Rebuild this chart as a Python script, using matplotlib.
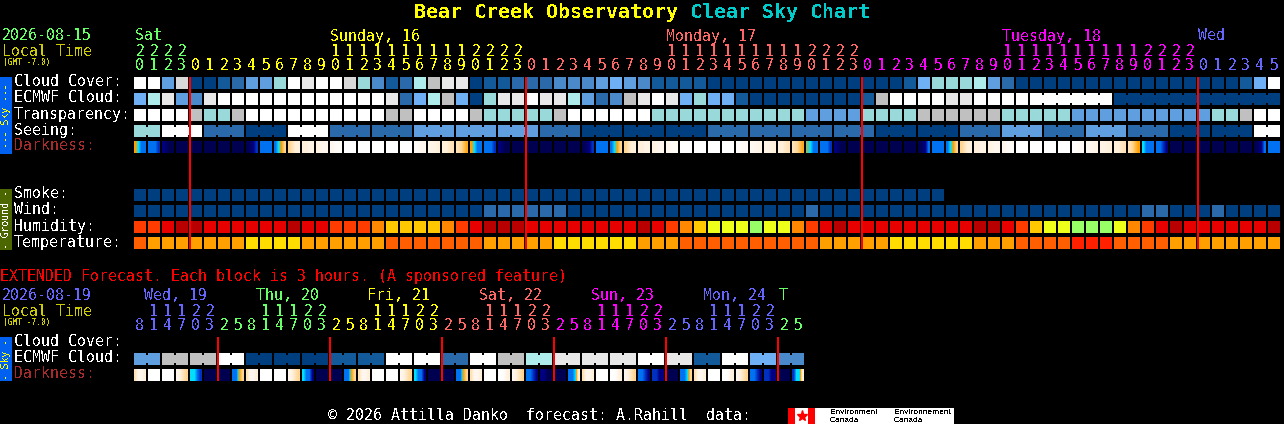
import matplotlib
matplotlib.use("Agg")
import matplotlib.pyplot as plt
from matplotlib.colors import LinearSegmentedColormap

# block codes: 0 darkest blue ... 8 grey ... 11 white
cloud_cover = [11, 11, 4, 9, 0, 0, 1, 2, 4, 4, 6, 11, 10, 11, 11, 9, 6, 3, 1, 2, 7,
               8, 10, 10, 0, 1, 1, 2, 2, 2, 3, 3, 3, 4, 5, 4, 3, 1, 1, 1, 1,
               0, 0, 0, 0, 0, 0, 0, 0, 0, 0, 0, 0, 0, 0, 1, 5, 6, 6, 6, 7, 4, 2,
               0, 0, 0, 0, 0, 0, 0, 0, 0, 0, 0, 0, 0, 0, 0, 0, 1, 5, 11]
ecmwf_cloud = [5, 7, 10, 4, 3, 10, 11, 11, 11, 11, 11, 11, 11, 11, 11, 11, 11, 11, 10, 2, 5,
               7, 8, 5, 0, 6, 10, 10, 11, 10, 10, 7, 4, 2, 3, 8, 10, 11, 10, 5, 6,
               5, 5, 1, 0, 0, 0, 0, 0, 0, 0, 0, 1, 8, 11, 11, 11, 11, 10, 10,
               11, 11, 11, 11, 11, 11, 11, 11, 11, 11,
               0, 0, 0, 0, 0, 0, 0, 0, 0, 0, 0, 0]
transparency = [11, 11, 11, 11, 8, 6, 6, 8, 11, 11, 11, 11, 11, 11, 11, 11, 11, 11, 8, 8,
                11, 11, 11, 11, 8, 6, 6, 6, 6, 6, 8, 11, 11, 11, 11, 11, 11,
                6, 6, 6, 6, 6, 6, 6, 6, 6, 6, 6, 4, 4, 4, 4,
                6, 6, 6, 6, 8, 8, 8, 8, 8, 8, 6, 6, 6, 6, 6,
                4, 4, 4, 4, 4, 4, 4, 4, 4, 4, 6, 6, 8, 11, 11]
seeing = [6, 6, 11, 11, 11, 2, 2, 2, 0, 0, 0, 11, 11, 11, 2, 2, 2, 2, 2, 2,
          4, 4, 4, 4, 4, 4, 4, 4, 4, 2, 2, 2, 0, 0, 0, 0, 0, 0, 0, 0, 0,
          2, 2, 2, 2, 2, 2, 2, 2, 2, 2, 2, 2, 0, 0, 0, 0, 0, 0,
          2, 2, 2, 4, 4, 4, 2, 2, 2, 4, 4, 4, 2, 2, 2, 0, 0, 0, 0, 0, 0, 11, 11]
seeing_groups = [2, 3, 3, 3, 3, 3, 3, 3, 3, 3, 3, 3, 3, 3, 3, 3, 3, 3, 3, 3, 3, 3, 3, 3, 3, 3, 3, 2]
ecmwf_groups = [64, 6, 12]  # first joined column, then the two run lengths

smoke = [0, 0, 0, 0, 0, 0, 0, 0, 0, 0, 0, 0, 0, 0, 0, 0, 0, 0, 0, 0, 0, 0, 0, 0, 0, 0, 0, 0, 0,
         0, 0, 0, 0, 0, 0, 0, 0, 0, 0, 0, 0, 0, 0, 0, 0, 0, 0, 0, 0, 0, 0, 0, 0, 0, 0, 0, 0, 0]
wind = [0, 0, 0, 0, 0, 0, 0, 0, 0, 0, 0, 0, 0, 0, 0, 0, 0, 0, 0, 0, 0, 0, 0, 0, 0,
        2, 2, 2, 2, 2, 2, 0, 0, 0, 0, 0, 0, 0, 0, 0, 0, 0, 0, 0, 0, 0, 0, 0, 2, 0, 0,
        0, 0, 0, 0, 0, 0, 0, 0, 0, 0, 0, 0, 0, 0, 0, 0, 0, 0, 0, 0, 0,
        2, 2, 0, 0, 0, 2, 0, 0, 0, 0]
humidity = ["o", "o", "r", "d", "d", "r", "r", "r", "r", "r", "r", "d", "r", "r", "o", "o", "o", "a", "y", "y", "y",
            "y", "a", "o", "r", "d", "d", "d", "r", "r", "r", "r", "r", "r", "r", "r", "d", "r", "o", "a", "y",
            "l", "l", "l", "g", "l", "l", "a", "o", "r", "d", "r",
            "r", "r", "r", "r", "r", "r", "r", "r", "d", "d", "r", "o", "y", "l", "l", "g", "g", "g", "l", "a", "o", "r", "d",
            "r", "r", "r", "r", "r", "r", "d"]
temperature = ["o", "a", "a", "a", "a", "a", "a", "a", "y", "y", "y", "y", "a", "a", "a", "a", "a", "a", "o", "o", "o",
               "o", "o", "o", "o", "a", "a", "a", "a", "a", "y", "y", "y", "y", "y", "y", "a", "a", "a",
               "o", "o", "o", "o", "o", "o", "o", "o", "o", "o", "a", "a", "a",
               "a", "a", "y", "y", "y", "y", "y", "y", "a", "a", "a", "o", "o", "o", "o", "R", "R", "R",
               "o", "o", "o", "o", "a", "a", "a", "a", "a", "a", "a", "a"]

# darkness: four samples across each block, 0 night ... 8 daylight
N = [0, 0, 0, 0]
W = [8, 8, 8, 8]
darkness = [[5, 4, 3, 3], [3, 3, 3, 2], [1, .5, 0, 0], N, N, N, N, N, [0, .5, 1, 2], [3, 3, 3, 3], [3, 4, 5, 6],
            [6, 6.5, 7, 7], [7, 7, 7.3, 7.3], [7.2, 7.4, 7.5, 7.5], [7.5, 7.7, 7.8, 7.8], W, W, W, W, W,
            [7.8, 7.7, 7.5, 7.5], [7.4, 7.3, 7.2, 7], [7, 7, 6.7, 6.5], [6.5, 6.2, 5.7, 5.2],
            [5, 4, 3, 3], [3, 3, 3, 2], [1, .5, 0, 0], N, N, N, N, N, [0, .5, 1, 2], [3, 3, 3, 3], [3, 4, 5, 6],
            [6, 6.5, 7, 7], [7, 7, 7.3, 7.3], [7.2, 7.4, 7.5, 7.5], [7.5, 7.7, 7.8, 7.8], W, W, W, W,
            [7.9, 7.8, 7.7, 7.7], [7.6, 7.5, 7.4, 7.3], [7.3, 7.2, 7.1, 7], [7, 7, 6.7, 6.5], [6.5, 6.2, 5.7, 5.2],
            [4.5, 4, 3, 3], [3, 3, 3, 2], [1, .5, 0, 0], N, N, N, N, N, [0, .5, 1, 3], [3, 3, 3, 3], [3, 4, 5, 6],
            [6, 6.5, 7, 7], [7, 7, 7.3, 7.3], [7.2, 7.4, 7.5, 7.5], [7.5, 7.7, 7.8, 7.8], W, W, W, W,
            [7.9, 7.8, 7.7, 7.7], [7.6, 7.5, 7.4, 7.3], [7.3, 7.2, 7.1, 7], [7, 7, 6.7, 6.5], [6.5, 6, 5.5, 5],
            [4, 3, 3, 3], [3, 3, 2, 1], N, N, N, N, N, N, [0, .5, 1, 3], [3, 3, 3, 3]]

ext_ecmwf = [4, 4, 8, 8, 8, 8, 11, 11, 0, 0, 0, 0, 0, 0, 1, 1, 1, 1, 11, 11, 11, 11, 2, 2,
             11, 11, 8, 8, 7, 7, 10, 10, 10, 10, 10, 10, 11, 11, 10, 10, 1, 1, 11, 11, 5, 5, 3, 3]
ext_darkness = [[6.5, 7.5, 7.5, 7], W, W, [7.5, 7, 6.5, 6], [4, 4, 3, 2], N, N, [3, 3, 5, 6],
                [6.5, 7.5, 7.5, 7], W, W, [7.5, 7, 6.5, 6], [4, 3, 3, 1], N, N, [3, 3, 5, 6],
                [6.5, 7.5, 7.5, 7], W, W, [7.5, 7, 6.5, 6], [4, 3, 3, 1], N, N, [3, 3, 5, 6],
                [6.5, 7.5, 7.5, 7], W, [8, 8, 7.5, 7], [7.5, 7, 6.5, 6], [3, 3, 2, 1], [1, 1, 0, 0], N, [3, 3, 4, 7],
                [6.5, 7.5, 7.5, 7], W, [8, 8, 7.5, 7], [7.5, 7, 6.5, 6], [3, 3, 2, 1], [2, 2, 1, 1], N, [3, 3, 4, 6],
                [6.5, 7.5, 7.5, 7], W, [8, 8, 7.5, 7], [7.5, 7, 6.5, 6], [3, 3, 2, 1], [2, 2, 1, 1], N, [2, 4, 4, 7]]

# hour labels, one per block
hours = [20, 21, 22, 23,
         0, 1, 2, 3, 4, 5, 6, 7, 8, 9, 10, 11, 12, 13, 14, 15, 16, 17, 18, 19, 20, 21, 22, 23,
         0, 1, 2, 3, 4, 5, 6, 7, 8, 9, 10, 11, 12, 13, 14, 15, 16, 17, 18, 19, 20, 21, 22, 23,
         0, 1, 2, 3, 4, 5, 6, 7, 8, 9, 10, 11, 12, 13, 14, 15, 16, 17, 18, 19, 20, 21, 22, 23,
         0, 1, 2, 3, 4, 5]
ext_hours = [8, 11, 14, 17, 20, 23, 2, 5, 8, 11, 14, 17, 20, 23, 2, 5, 8, 11, 14, 17, 20, 23, 2, 5,
             8, 11, 14, 17, 20, 23, 2, 5, 8, 11, 14, 17, 20, 23, 2, 5, 8, 11, 14, 17, 20, 23, 2, 5]

GREEN = "#66ff66"
YELLOW = "#ffff00"
SALMON = "#ff6666"
MAGENTA = "#ff00ff"
BLUE = "#6666ff"
OLIVE_TXT = "#cccc00"
RED = "#ff0000"

main_days = [("Sat", 135, GREEN), ("Sunday, 16", 330, YELLOW), ("Monday, 17", 666, SALMON),
             ("Tuesday, 18", 1002, MAGENTA), ("Wed", 1198, BLUE)]
ext_days = [("Wed, 19", 144, BLUE), ("Thu, 20", 256, GREEN), ("Fri, 21", 367, YELLOW),
            ("Sat, 22", 479, SALMON), ("Sun, 23", 591, MAGENTA), ("Mon, 24", 703, BLUE), ("T", 779, GREEN)]

cloud_colors = ["#003f7f", "#135a9a", "#2b6aaa", "#4a8aca", "#5f9fe0", "#6fb0f5",
                "#99d9d9", "#aeecec", "#c0c0c0", "#d8d8d8", "#e8e8e8", "#ffffff"]
ground_colors = {"d": "#b80000", "r": "#e60000", "o": "#ff3c00", "a": "#ff8800", "y": "#ffc800",
                 "l": "#eeff1a", "g": "#99ff66"}
temp_colors = {"a": "#ffa000", "y": "#ffdd00", "o": "#ff5f00", "R": "#ff2000"}
dark_cmap = LinearSegmentedColormap.from_list("dark", [
    (0, "#000050"), (1 / 8, "#000080"), (2 / 8, "#0030c0"), (3 / 8, "#0070f0"), (4 / 8, "#00e0ff"),
    (5 / 8, "#ffa000"), (6 / 8, "#ffd590"), (7 / 8, "#fff0dc"), (1, "#ffffff")])

plt.rcParams["font.family"] = ["DejaVu Sans Mono"]
plt.rcParams["text.antialiased"] = False

X0 = 134
PITCH = 14
SIZE = 12

fig = plt.figure(figsize=(12.84, 4.24), dpi=100, facecolor="black")
ax = fig.add_axes([0, 0, 1, 1])
ax.set_facecolor("black")
ax.axis("off")


def col_x(c):
    return X0 + PITCH * c


def draw_row(vals, y, palette):
    xs = [col_x(i) for i in range(len(vals))]
    cols = [palette[v] for v in vals]
    ax.bar(xs, [SIZE] * len(vals), width=SIZE, bottom=y, align="edge", color=cols, antialiased=False, zorder=2)


def draw_joins(vals, y, palette, start, lengths):
    # narrow links across the gap of blocks inside one model step
    c = start
    for n in lengths:
        for i in range(c, c + n - 1):
            ax.bar(col_x(i) + SIZE, 8, width=PITCH - SIZE, bottom=y + 2, align="edge",
                   color=palette[vals[i]], antialiased=False, zorder=2)
        c += n


def draw_dark(vals, y):
    for i, v in enumerate(vals):
        x = col_x(i)
        ax.imshow([v], extent=(x, x + SIZE, y + SIZE, y), cmap=dark_cmap, vmin=0, vmax=8,
                  aspect="auto", interpolation="bilinear", zorder=2)


def txt(x, y, s, color="white", size=10.76, **kw):
    ax.text(x, y + 1, s, color=color, fontsize=size, va="center", ha=kw.pop("ha", "left"), zorder=5, **kw)


# title
txt(414, 11, "Bear Creek Observatory", YELLOW, 14.35, fontweight="bold")
txt(690, 11, "Clear Sky Chart", "#00cccc", 14.35, fontweight="bold")

# main header
txt(2, 35, "2026-08-15", GREEN)
txt(2, 50, "Local Time", OLIVE_TXT)
txt(3, 61, "(GMT -7.0)", OLIVE_TXT, 5.7)
for name, x, color in main_days:
    txt(x, 35, name, color)
for i, h in enumerate(hours):
    if i < 4:
        color = GREEN
    elif i < 28:
        color = YELLOW
    elif i < 52:
        color = SALMON
    elif i < 76:
        color = MAGENTA
    else:
        color = BLUE
    cx = col_x(i) + SIZE / 2
    txt(cx, 65, str(h % 10), color, ha="center")
    if h >= 10:
        txt(cx, 50, str(h // 10), color, ha="center")

# main rows
row_names = ["Cloud Cover:", "ECMWF Cloud:", "Transparency:", "Seeing:"]
for name, y in zip(row_names, [81, 97, 113, 129]):
    txt(14, y, name)
txt(14, 145, "Darkness:", "#a52a2a")
for name, y in zip(["Smoke:", "Wind:", "Humidity:", "Temperature:"], [193, 209, 225, 241]):
    txt(14, y, name)

draw_row(cloud_cover, 77, cloud_colors)
draw_row(ecmwf_cloud, 93, cloud_colors)
draw_joins(ecmwf_cloud, 93, cloud_colors, ecmwf_groups[0], ecmwf_groups[1:])
draw_row(transparency, 109, cloud_colors)
draw_row(seeing, 125, cloud_colors)
draw_joins(seeing, 125, cloud_colors, 0, seeing_groups)
draw_dark(darkness, 141)
draw_row(smoke, 189, cloud_colors)
draw_row(wind, 205, cloud_colors)
draw_row(humidity, 221, ground_colors)
draw_row(temperature, 237, temp_colors)

# side bars
ax.bar(0, 77, width=12, bottom=77, align="edge", color="#0060f0", antialiased=False)
ax.text(6, 115.5, "--- Sky ---", color=YELLOW, fontsize=7, rotation=90, ha="center", va="center", zorder=5)
ax.bar(0, 61, width=12, bottom=189, align="edge", color="#4c6600", antialiased=False)
ax.text(6, 219.5, "- Ground -", color="white", fontsize=7, rotation=90, ha="center", va="center", zorder=5)
ax.bar(0, 44, width=12, bottom=337, align="edge", color="#0060f0", antialiased=False)
ax.text(6, 359, "- Sky -", color=YELLOW, fontsize=7, rotation=90, ha="center", va="center", zorder=5)

# midnight lines
for c in [4, 28, 52, 76]:
    ax.bar(col_x(c) - 1, 172, width=2, bottom=77, align="edge", color=RED, antialiased=False, zorder=4)

# extended forecast
txt(0, 276, "EXTENDED Forecast. Each block is 3 hours. (A sponsored feature)", RED)
txt(2, 295, "2026-08-19", BLUE)
txt(2, 310, "Local Time", OLIVE_TXT)
txt(3, 322, "(GMT -7.0)", OLIVE_TXT, 5.7)
for name, x, color in ext_days:
    txt(x, 295, name, color)
ext_colors = [BLUE] * 6 + [GREEN] * 8 + [YELLOW] * 8 + [SALMON] * 8 + [MAGENTA] * 8 + [BLUE] * 8 + [GREEN] * 2
for i, h in enumerate(ext_hours):
    cx = col_x(i) + SIZE / 2
    txt(cx, 325, str(h % 10), ext_colors[i], ha="center")
    if h >= 10:
        txt(cx, 310, str(h // 10), ext_colors[i], ha="center")
txt(14, 341, "Cloud Cover:")
txt(14, 357, "ECMWF Cloud:")
txt(14, 373, "Darkness:", "#a52a2a")
draw_row(ext_ecmwf, 353, cloud_colors)
draw_joins(ext_ecmwf, 353, cloud_colors, 0, [2] * 24)
draw_dark(ext_darkness, 369)
for c in [6, 14, 22, 30, 38, 46]:
    ax.bar(col_x(c) - 1, 44, width=2, bottom=337, align="edge", color=RED, antialiased=False, zorder=4)

# footer
txt(328, 415, "© 2026 Attilla Danko  forecast: A.Rahill  data:")
ax.bar(788, 16, width=166, bottom=408, align="edge", color="white", antialiased=False)
ax.bar([788, 808], [16, 16], width=7, bottom=408, align="edge", color="#ff0000", antialiased=False, zorder=3)
ax.plot([801.5], [416], marker="*", ms=8, color="#ff0000", zorder=3)
for x, top in [(830, "Environment"), (894, "Environnement")]:
    ax.text(x, 412.5, top, color="black", fontsize=6, family="Liberation Sans", va="center", zorder=5)
    ax.text(x, 420, "Canada", color="black", fontsize=6, family="Liberation Sans", va="center", zorder=5)

ax.set_xlim(0, 1284)
ax.set_ylim(424, 0)
fig.savefig("out.png", dpi=100, facecolor="black")
